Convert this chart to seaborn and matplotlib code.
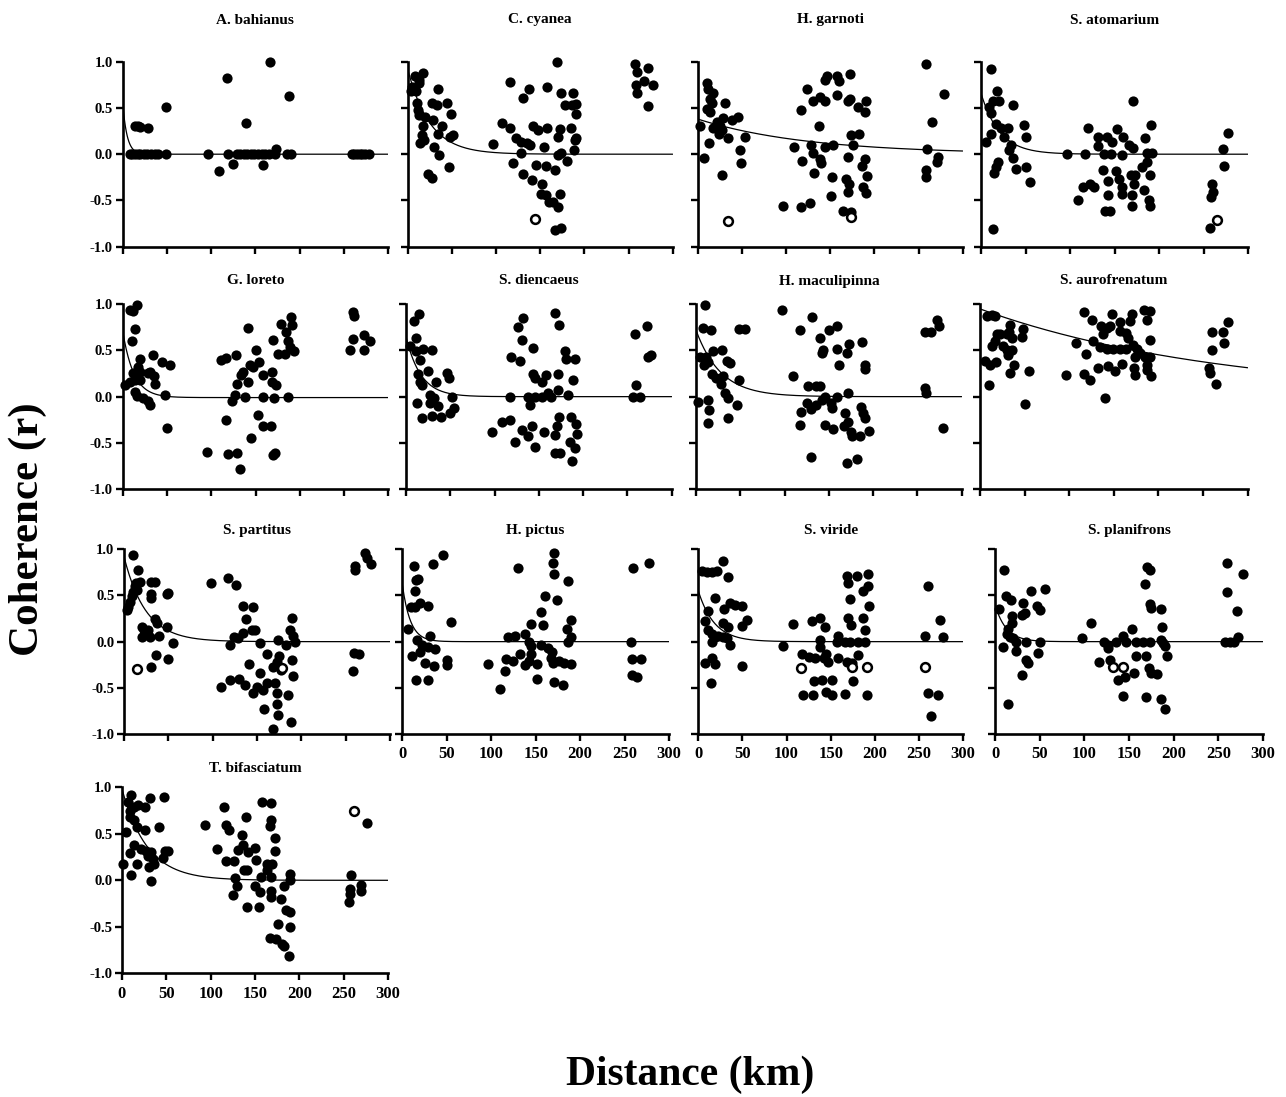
import numpy as np
import pandas as pd
import matplotlib
matplotlib.use("Agg")
import matplotlib.pyplot as plt
import seaborn as sns

# ---------------- data: (distance km, coherence r) per species ----------------
species = ["A. bahianus", "C. cyanea", "H. garnoti", "S. atomarium",
           "G. loreto", "S. diencaeus", "H. maculipinna", "S. aurofrenatum",
           "S. partitus", "H. pictus", "S. viride", "S. planifrons",
           "T. bifasciatum"]

bahianus_pts = [(8, 0.0), (11, 0.0), (14, 0.0), (17, 0.0), (20, 0.0), (24, 0.0), (28, 0.0),
                (32, 0.0), (36, 0.0), (40, 0.0), (49, 0.0), (97, 0.0), (119, 0.0), (129, 0.0),
                (133, 0.0), (137, 0.0), (141, 0.0), (145, 0.0), (149, 0.0), (153, 0.0),
                (157, 0.0), (161, 0.0), (165, 0.0), (172, 0.0), (186, 0.0), (190, 0.0),
                (259, 0.0), (262, 0.0), (265, 0.0), (268, 0.0), (271, 0.0), (274, 0.0),
                (278, 0.0), (14, 0.31), (17, 0.30), (20, 0.29), (29, 0.28), (49, 0.51),
                (118, 0.82), (167, 1.0), (188, 0.63), (139, 0.34), (173, 0.06),
                (109, -0.18), (125, -0.11), (159, -0.12)]
bahianus_open = []

cyanea_pts = [(3.8, 0.68), (8.3, 0.84), (12.8, 0.80), (17.7, 0.88), (13.2, 0.77), (4.5, 0.73),
              (9, 0.68), (10.2, 0.55), (11.3, 0.48), (12.8, 0.42), (19.6, 0.40), (29, 0.37),
              (38.5, 0.31), (27, 0.55), (32.8, 0.53), (34, 0.71), (44, 0.55), (49, 0.43),
              (17.7, 0.30), (15.8, 0.21), (13.9, 0.12), (18.9, 0.15), (34.7, 0.22), (30, 0.08),
              (35.8, -0.01), (51.7, 0.21), (48, 0.19), (23.4, -0.21), (27, -0.26), (47, -0.14),
              (96, 0.11), (107, 0.34), (116, 0.28), (123, 0.17), (128, 0.13), (135, 0.12),
              (138, 0.10), (128, 0.01), (119, -0.09), (130, -0.21), (141, -0.28), (145, -0.12),
              (152, -0.32), (151, -0.43), (157, -0.44), (160, -0.52), (165, -0.52),
              (170, -0.57), (172, -0.43), (167, -0.17), (156, -0.13), (170, -0.01),
              (174, 0.01), (167, -0.82), (174, -0.80), (169, 1.0), (116, 0.78), (137, 0.71),
              (158, 0.73), (131, 0.61), (142, 0.31), (147, 0.26), (158, 0.28), (172, 0.27),
              (170, 0.19), (154, 0.08), (174, 0.66), (187, 0.66), (178, 0.53), (186, 0.53),
              (191, 0.54), (190, 0.43), (185, 0.28), (191, 0.17), (189, 0.15), (188, 0.05),
              (180, -0.07), (257, 0.97), (260, 0.89), (272, 0.93), (267, 0.79), (258, 0.75),
              (260, 0.66), (278, 0.75), (272, 0.52)]
cyanea_open = [(144, -0.70)]

garnoti_pts = [(10, 0.77), (11.3, 0.71), (17.7, 0.66), (14, 0.60), (15.8, 0.55), (10, 0.49),
               (14, 0.46), (2.6, 0.30), (17.7, 0.28), (24, 0.22), (21.5, 0.35), (29, 0.39),
               (31, 0.55), (38.5, 0.37), (46, 0.40), (34.7, 0.17), (53.6, 0.19), (13, 0.12),
               (48, 0.04), (49, -0.10), (7, -0.04), (28, -0.23), (27, 0.26), (25, 0.31),
               (96, -0.56), (117, -0.57), (127, -0.53), (151, -0.45), (152, -0.25),
               (132, -0.20), (118, -0.07), (130, 0.01), (139, -0.05), (140, -0.09),
               (109, 0.08), (128, 0.10), (144, 0.08), (153, 0.10), (137, 0.31), (117, 0.48),
               (124, 0.71), (130, 0.57), (138, 0.62), (144, 0.80), (146, 0.85), (144, 0.57),
               (158, 0.85), (160, 0.79), (172, 0.87), (158, 0.64), (170, 0.57), (172, 0.60),
               (181, 0.51), (189, 0.46), (191, 0.57), (174, 0.21), (183, 0.22), (176, 0.10),
               (170, -0.03), (189, -0.05), (186, -0.13), (192, -0.24), (168, -0.27),
               (171, -0.32), (170, -0.41), (187, -0.35), (190, -0.42), (165, -0.61),
               (174, -0.62), (258, 0.97), (279, 0.65), (265, 0.35), (260, 0.06),
               (272, -0.03), (271, -0.08), (259, -0.17), (259, -0.25)]
garnoti_open = [(34.7, -0.72), (173, -0.68)]

atomarium_pts = [(11, 0.92), (18, 0.68), (20.5, 0.58), (14, 0.57), (35.4, 0.53), (9.3, 0.51),
                 (11, 0.44), (17, 0.33), (22, 0.28), (30, 0.28), (48, 0.32), (50, 0.19),
                 (11, 0.22), (5.6, 0.13), (26, 0.19), (33.5, 0.10), (32, 0.04), (35.4, -0.04),
                 (18.6, -0.08), (16.8, -0.14), (15, -0.20), (39, -0.16), (50, -0.14),
                 (55, -0.30), (14, -0.81), (97, 0.0), (117, 0.0), (138, 0.0), (146, 0.0),
                 (158, -0.01), (120, 0.28), (132, 0.19), (131, 0.09), (142, 0.19), (147, 0.13),
                 (153, 0.27), (160, 0.19), (166, 0.10), (171, 0.07), (171, 0.58), (191, 0.32),
                 (184, 0.17), (186, 0.01), (192, 0.01), (186, -0.08), (181, -0.14),
                 (137, -0.17), (152, -0.18), (115, -0.35), (123, -0.32), (127, -0.36),
                 (143, -0.29), (155, -0.27), (158, -0.35), (158, -0.43), (168, -0.23),
                 (173, -0.23), (172, -0.32), (183, -0.39), (170, -0.44), (190, -0.23),
                 (189, -0.49), (190, -0.56), (170, -0.56), (143, -0.44), (109, -0.50),
                 (139, -0.61), (145, -0.61), (278, 0.23), (272, 0.06), (273, -0.13),
                 (260, -0.32), (261, -0.41), (258, -0.46), (257, -0.80)]
atomarium_open = [(265, -0.71)]

loreto_pts = [(8.3, 0.94), (16.6, 0.99), (12, 0.93), (14, 0.73), (11, 0.60), (19, 0.41),
              (17.7, 0.32), (12, 0.26), (19, 0.27), (2.6, 0.13), (8.3, 0.16), (14, 0.18),
              (19, 0.18), (14, 0.05), (15.8, 0.01), (22.6, -0.01), (29, -0.05), (31, -0.09),
              (34, 0.45), (29, 0.26), (35, 0.22), (31, 0.27), (44, 0.38), (53.4, 0.34),
              (48, 0.02), (49.7, -0.34), (36.5, 0.14), (95.6, -0.60), (118.6, -0.62),
              (128.7, -0.61), (132, -0.78), (144.5, -0.45), (116.6, -0.25), (124, -0.05),
              (127, 0.02), (138, 0.0), (153, -0.20), (158, -0.32), (168, -0.32),
              (172, -0.61), (170, -0.63), (110.7, 0.40), (117, 0.42), (128, 0.45),
              (129, 0.14), (134, 0.23), (136, 0.27), (141, 0.16), (142, 0.74), (144, 0.34),
              (147, 0.32), (151, 0.51), (154, 0.37), (158, 0.23), (159, 0.0), (169, 0.27),
              (169, 0.16), (173, 0.13), (171, -0.02), (187, 0.0), (170, 0.61), (175, 0.46),
              (179, 0.79), (185, 0.70), (190, 0.86), (191, 0.78), (187, 0.60), (189, 0.54),
              (193, 0.49), (183, 0.46), (260, 0.92), (261, 0.87), (260, 0.62), (272, 0.67),
              (279, 0.60), (257, 0.51), (272, 0.51)]
loreto_open = []

diencaeus_pts = [(9.4, 0.82), (14.7, 0.89), (10.9, 0.63), (4.5, 0.55), (10.9, 0.49),
                 (19.6, 0.52), (29.7, 0.51), (15.8, 0.40), (13.2, 0.25), (25.2, 0.28),
                 (15.8, 0.16), (18.4, 0.13), (33.5, 0.16), (46, 0.26), (48, 0.20), (27, 0.02),
                 (32, -0.02), (27, -0.07), (36.5, -0.10), (12, -0.07), (18.4, -0.23),
                 (29.7, -0.21), (39.5, -0.22), (49.7, -0.18), (54.6, -0.12), (51.6, 0.0),
                 (97.5, -0.38), (108, -0.27), (117, -0.25), (123, -0.49), (131, -0.36),
                 (138, -0.43), (142, -0.32), (146, -0.55), (156, -0.38), (168, -0.61),
                 (174, -0.61), (187, -0.70), (191, -0.56), (193, -0.40), (192, -0.30),
                 (185, -0.49), (168, -0.42), (170, -0.32), (173, -0.22), (186, -0.22),
                 (117, 0.0), (138, 0.0), (140, -0.09), (146, 0.0), (153, 0.0), (160, 0.04),
                 (164, 0.0), (172, 0.07), (183, 0.02), (119, 0.43), (129, 0.39), (143, 0.24),
                 (146, 0.20), (153, 0.16), (158, 0.23), (172, 0.24), (188, 0.18), (132, 0.85),
                 (126, 0.75), (131, 0.61), (143, 0.53), (168, 0.91), (173, 0.78), (180, 0.49),
                 (181, 0.41), (191, 0.41), (259, 0.68), (272, 0.76), (277, 0.45), (273, 0.43),
                 (260, 0.13), (256, 0.0), (264, 0.0)]
diencaeus_open = []

maculipinna_pts = [(10, 0.99), (8.3, 0.74), (17, 0.72), (4.5, 0.43), (10.9, 0.43), (13.9, 0.38),
                   (9.4, 0.34), (19.6, 0.49), (29, 0.51), (34.7, 0.39), (38.5, 0.36),
                   (17.7, 0.24), (23, 0.20), (28, 0.14), (31, 0.22), (48, 0.18), (32.8, 0.04),
                   (35.8, -0.02), (2.6, -0.06), (13.9, -0.04), (14.7, -0.14), (13.9, -0.29),
                   (35.8, -0.23), (46, -0.09), (48.5, 0.73), (55, 0.73), (97.5, 0.94),
                   (130.6, 0.86), (117.4, 0.72), (140, 0.63), (143, 0.51), (142, 0.47),
                   (150, 0.72), (159, 0.76), (159, 0.52), (162, 0.34), (173, 0.57), (170, 0.47),
                   (187, 0.59), (191, 0.34), (191, 0.30), (110, 0.22), (127, 0.12), (136, 0.12),
                   (140, 0.11), (146, 0.0), (159, 0.0), (172, 0.04), (119, -0.17), (125, -0.07),
                   (130, -0.13), (135, -0.09), (142, -0.04), (152, -0.07), (153, -0.12),
                   (117, -0.31), (146, -0.31), (155, -0.35), (168, -0.18), (172, -0.27),
                   (167, -0.32), (175, -0.38), (176, -0.43), (185, -0.43), (186, -0.11),
                   (189, -0.18), (191, -0.23), (195, -0.37), (130, -0.65), (170, -0.72),
                   (182, -0.68), (259, 0.70), (265, 0.70), (272, 0.83), (274, 0.77),
                   (259, 0.09), (260, 0.04), (279, -0.34)]
maculipinna_open = []

aurofrenatum_pts = [(7.5, 0.87), (13, 0.88), (17, 0.87), (34, 0.78), (32, 0.70), (19, 0.68),
                    (22, 0.68), (30, 0.68), (48, 0.73), (47, 0.65), (35.5, 0.64), (17, 0.60),
                    (13, 0.55), (26, 0.55), (30, 0.51), (35.5, 0.51), (31, 0.45), (5.6, 0.39),
                    (11, 0.34), (18, 0.37), (38.5, 0.34), (34, 0.26), (55, 0.28), (10.5, 0.13),
                    (50, -0.08), (117, 0.92), (126, 0.83), (148, 0.90), (157, 0.81), (170, 0.90),
                    (168, 0.82), (184, 0.94), (190, 0.93), (187, 0.83), (136, 0.76), (142, 0.74),
                    (146, 0.76), (138, 0.68), (157, 0.71), (164, 0.69), (166, 0.63), (108, 0.58),
                    (127, 0.60), (134, 0.54), (142, 0.52), (149, 0.52), (157, 0.52), (164, 0.52),
                    (172, 0.56), (176, 0.52), (190, 0.61), (119, 0.46), (174, 0.43), (179, 0.47),
                    (185, 0.43), (190, 0.43), (187, 0.34), (132, 0.31), (143, 0.33), (151, 0.28),
                    (159, 0.35), (173, 0.31), (174, 0.23), (187, 0.29), (192, 0.22), (96, 0.23),
                    (117, 0.25), (123, 0.18), (140, -0.01), (260, 0.70), (272, 0.70),
                    (278, 0.81), (273, 0.58), (260, 0.50), (257, 0.31), (258, 0.26), (265, 0.14)]
aurofrenatum_open = []

partitus_pts = [(9.8, 0.94), (16, 0.78), (3, 0.34), (4.9, 0.38), (6.8, 0.43), (8.6, 0.49),
                (10.5, 0.54), (12.4, 0.60), (14, 0.63), (18, 0.65), (15, 0.56), (30, 0.65),
                (35, 0.65), (30, 0.52), (30, 0.47), (49, 0.52), (50, 0.53), (20, 0.16),
                (22, 0.13), (27.5, 0.13), (20, 0.05), (29, 0.05), (35, 0.24), (37, 0.20),
                (39, 0.06), (49, 0.16), (55, -0.02), (36, -0.14), (50, -0.19), (31, -0.27),
                (98, 0.63), (117, 0.69), (126, 0.61), (134, 0.39), (146, 0.37), (138, 0.24),
                (144, 0.13), (148, 0.13), (124, 0.05), (129, 0.04), (134, 0.09), (120, -0.04),
                (153, -0.01), (174, 0.02), (183, -0.04), (187, 0.13), (189, 0.26), (191, 0.06),
                (193, 0.0), (161, -0.13), (175, -0.16), (172, -0.22), (168, -0.27),
                (177, -0.31), (190, -0.20), (191, -0.37), (141, -0.24), (153, -0.34),
                (130, -0.40), (119, -0.41), (109, -0.49), (136, -0.47), (146, -0.56),
                (150, -0.49), (157, -0.52), (161, -0.45), (170, -0.45), (172, -0.56),
                (185, -0.58), (158, -0.73), (172, -0.68), (174, -0.79), (188, -0.87),
                (168, -0.95), (272, 0.96), (274, 0.91), (279, 0.84), (261, 0.82), (261, 0.78),
                (259, -0.12), (265, -0.13), (258, -0.32)]
partitus_open = [(15, -0.30), (178, -0.28)]

pictus_pts = [(13.5, 0.82), (18, 0.68), (15, 0.67), (14, 0.55), (9.7, 0.38), (14, 0.37),
              (20, 0.42), (29, 0.39), (6, 0.14), (35, 0.84), (46, 0.94), (55, 0.21), (16, 0.02),
              (22, -0.04), (31, 0.06), (29, -0.06), (37, -0.08), (20, -0.11), (10.5, -0.16),
              (25, -0.23), (36, -0.26), (50, -0.20), (50, -0.25), (15, -0.41), (29, -0.42),
              (130, 0.80), (171, 0.96), (169, 0.85), (171, 0.73), (186, 0.66), (160, 0.49),
              (174, 0.45), (156, 0.32), (158, 0.18), (145, 0.19), (190, 0.23), (185, 0.14),
              (190, 0.05), (186, 0.0), (119, 0.05), (127, 0.06), (138, 0.08), (143, 0.0),
              (145, -0.05), (145, -0.13), (156, -0.04), (164, -0.07), (168, -0.11),
              (117, -0.19), (124, -0.21), (132, -0.13), (138, -0.25), (142, -0.21),
              (152, -0.24), (167, -0.18), (170, -0.23), (176, -0.21), (182, -0.23),
              (190, -0.24), (96, -0.24), (115, -0.32), (152, -0.40), (171, -0.44),
              (181, -0.47), (110, -0.51), (259, 0.80), (278, 0.85), (257, 0.0), (258, -0.19),
              (268, -0.19), (258, -0.36), (264, -0.38)]
pictus_open = []

viride_pts = [(3.8, 0.77), (9.4, 0.75), (15, 0.75), (20.8, 0.76), (28, 0.87), (34, 0.70),
              (19, 0.47), (11, 0.33), (7.5, 0.22), (11, 0.13), (16, 0.08), (19, 0.05),
              (22.6, 0.06), (28, 0.05), (32, 0.04), (15, 0.0), (36, -0.04), (27.5, 0.20),
              (34, 0.16), (29.4, 0.35), (36, 0.42), (41.5, 0.40), (49, 0.39), (55, 0.23),
              (49, 0.17), (7.5, -0.23), (15, -0.18), (19, -0.24), (14, -0.45), (49, -0.26),
              (107.5, 0.19), (96, -0.05), (129, 0.22), (138, 0.26), (144, 0.16), (138, 0.02),
              (138, -0.06), (158, 0.06), (157, 0.0), (166, 0.0), (172, 0.0), (181, 0.0),
              (189, 0.0), (117, -0.13), (126, -0.17), (132, -0.18), (145, -0.13),
              (147, -0.22), (143, -0.18), (158, -0.18), (181, -0.14), (169, -0.22),
              (174, -0.23), (131, -0.43), (140, -0.42), (151, -0.41), (175, -0.43),
              (119, -0.58), (130, -0.58), (145, -0.55), (151, -0.58), (166, -0.57),
              (191, -0.58), (169, 0.71), (180, 0.71), (192, 0.73), (170, 0.64), (192, 0.60),
              (187, 0.55), (172, 0.46), (193, 0.39), (170, 0.26), (173, 0.18), (187, 0.26),
              (189, 0.13), (260, 0.60), (257, 0.06), (277, 0.05), (274, 0.23), (260, -0.56),
              (272, -0.58), (264, -0.80)]
viride_open = [(116, -0.28), (174, -0.27), (191, -0.27), (257, -0.27)]

planifrons_pts = [(10, 0.78), (12, 0.49), (17.5, 0.45), (5, 0.35), (18.6, 0.28), (30, 0.29),
                  (33.5, 0.31), (31, 0.42), (40, 0.55), (56, 0.57), (46.6, 0.39), (50, 0.34),
                  (18.6, 0.20), (15, 0.14), (13, 0.08), (17, 0.05), (20.5, 0.04), (24, 0.0),
                  (35, 0.0), (50, 0.0), (8.6, -0.06), (24, -0.10), (48.5, -0.12), (35, -0.20),
                  (37.3, -0.23), (30, -0.36), (15, -0.67), (97, 0.04), (108, 0.20), (122, 0.0),
                  (126, -0.04), (127, -0.07), (116, -0.22), (128.6, -0.20), (138, -0.41),
                  (145, -0.38), (143, -0.59), (156, -0.34), (153, 0.14), (143, 0.06),
                  (136, 0.0), (147, 0.0), (158, 0.0), (166, 0.0), (173, 0.0), (186, 0.02),
                  (188, -0.02), (190, -0.05), (158, -0.16), (169, -0.16), (192, -0.16),
                  (172, -0.29), (175, -0.34), (181, -0.35), (186, 0.35), (187, 0.16),
                  (168, 0.62), (170, 0.81), (173, 0.78), (173, 0.41), (175, 0.36),
                  (169, -0.60), (186, -0.62), (190, -0.73), (260, 0.85), (260, 0.54),
                  (278, 0.73), (271, 0.33), (272, 0.05), (257, 0.0), (263, 0.0), (267, 0.0)]
planifrons_open = [(132, -0.27), (143, -0.27)]

bifasciatum_pts = [(10.5, 0.92), (6.8, 0.84), (8.6, 0.75), (14, 0.79), (18, 0.81), (25.6, 0.79),
                   (32, 0.88), (47, 0.90), (8.6, 0.68), (13, 0.65), (16.5, 0.57), (4.9, 0.52),
                   (25.6, 0.54), (42, 0.57), (14, 0.38), (21, 0.34), (27, 0.32), (33, 0.30),
                   (8.6, 0.29), (1, 0.18), (10.5, 0.06), (16.5, 0.18), (31, 0.14), (35, 0.23),
                   (33, -0.01), (46, 0.24), (48, 0.32), (52, 0.32), (29, 0.26), (36, 0.18),
                   (94, 0.60), (107, 0.34), (115, 0.79), (117, 0.60), (121, 0.54), (117, 0.21),
                   (126, 0.21), (135, 0.49), (131, 0.33), (136, 0.38), (140, 0.68), (142, 0.30),
                   (150, 0.35), (138, 0.11), (141, 0.11), (151, 0.22), (128, 0.02),
                   (130, -0.06), (125, -0.16), (141, -0.29), (155, -0.29), (150, -0.06),
                   (156, -0.13), (157, 0.04), (164, 0.18), (163, 0.11), (158, 0.84), (168, 0.83),
                   (168, 0.65), (167, 0.58), (172, 0.45), (172, 0.32), (169, 0.18), (168, 0.04),
                   (168, -0.11), (168, -0.18), (183, -0.06), (189, 0.07), (189, 0.0),
                   (179, -0.20), (185, -0.32), (190, -0.34), (189, -0.50), (176, -0.47),
                   (167, -0.62), (174, -0.63), (181, -0.68), (183, -0.71), (188, -0.81),
                   (276, 0.62), (258, 0.06), (257, -0.09), (257, -0.15), (256, -0.23),
                   (269, -0.05), (269, -0.11)]
bifasciatum_open = [(262, 0.75)]

# exponential decay fit per species: r = a * exp(-b * d) + c
fit_a = [0.55, 0.92, 0.38, 0.66, 0.72, 0.65, 0.72, 0.95, 0.92, 0.62, 0.55, 0.40, 0.98]
fit_b = [0.20, 0.040, 0.008, 0.048, 0.08, 0.06, 0.036, 0.0037, 0.041, 0.11, 0.055, 0.08, 0.035]
fit_c = [0.0, 0.0, 0.0, 0.0, -0.01, 0.0, 0.0, 0.0, 0.0, 0.0, 0.0, 0.0, 0.0]

x_ticks = [0, 50, 100, 150, 200, 250, 300]
y_ticks = [-1.0, -0.5, 0.0, 0.5, 1.0]
y_ticklabels = ["-1.0", "-0.5", "0.0", "0.5", "1.0"]

filled_sets = [bahianus_pts, cyanea_pts, garnoti_pts, atomarium_pts, loreto_pts,
               diencaeus_pts, maculipinna_pts, aurofrenatum_pts, partitus_pts,
               pictus_pts, viride_pts, planifrons_pts, bifasciatum_pts]
open_sets = [bahianus_open, cyanea_open, garnoti_open, atomarium_open, loreto_open,
             diencaeus_open, maculipinna_open, aurofrenatum_open, partitus_open,
             pictus_open, viride_open, planifrons_open, bifasciatum_open]

rows = []
for name, pts, opn in zip(species, filled_sets, open_sets):
    rows += [{"species": name, "km": d, "r": r, "open": False} for d, r in pts]
    rows += [{"species": name, "km": d, "r": r, "open": True} for d, r in opn]
df = pd.DataFrame(rows)

# ---------------- layout (pixel boxes: left, right, top(=1.0), bottom(=-1.0)) ----------------
W, H = 1286, 1097
boxes = [
    (122.7, 388.0, 61.7, 246.7), (407.7, 672.7, 61.7, 246.7),
    (697.7, 962.7, 61.7, 246.7), (981.0, 1248.0, 61.7, 246.7),
    (122.7, 388.3, 304.3, 489.0), (406.0, 671.7, 304.3, 489.0),
    (696.0, 961.7, 304.3, 489.0), (980.0, 1247.7, 304.3, 489.0),
    (124.0, 390.0, 549.3, 734.0), (402.3, 669.0, 549.3, 734.0),
    (698.3, 963.0, 549.3, 734.0), (995.0, 1263.0, 549.3, 734.0),
    (122.0, 388.0, 787.3, 973.3),
]
title_y = [20, 20, 20, 20, 281, 281, 281, 281, 530, 530, 530, 530, 768]
show_xlabels = [False] * 8 + [False, True, True, True, True]
show_ylabels = [True, False, False, False, True, False, False, False,
                True, False, False, False, True]

sns.set_style("ticks")
plt.rcParams["font.family"] = ["Liberation Serif", "DejaVu Serif"]
plt.rcParams["font.weight"] = "bold"
for key in ("text.color", "axes.labelcolor", "xtick.color", "ytick.color", "axes.edgecolor"):
    plt.rcParams[key] = "black"

fig = plt.figure(figsize=(W / 100, H / 100), dpi=100)
fig.patch.set_facecolor("white")

curve_d = np.linspace(0, 300, 301)

for i, name in enumerate(species):
    L, R, T, B = boxes[i]
    ax = fig.add_axes([L / W, 1 - B / H, (R - L) / W, (B - T) / H])
    ax.set_facecolor("white")
    sub = df[df["species"] == name]

    fit = pd.DataFrame({"km": curve_d,
                        "r": fit_a[i] * np.exp(-fit_b[i] * curve_d) + fit_c[i]})
    sns.lineplot(data=fit, x="km", y="r", color="black", linewidth=0.9, ax=ax,
                 legend=False, zorder=2)

    sns.scatterplot(data=sub[~sub["open"]], x="km", y="r", color="black", s=54,
                    edgecolor="black", linewidth=0, ax=ax, legend=False,
                    clip_on=False, zorder=3)
    if sub["open"].any():
        sns.scatterplot(data=sub[sub["open"]], x="km", y="r", s=40, color="white",
                        edgecolor="black", linewidth=1.8, ax=ax, legend=False,
                        clip_on=False, zorder=4)

    ax.set_xlim(0, 300)
    ax.set_ylim(-1, 1)
    ax.set_xticks(x_ticks)
    ax.set_yticks(y_ticks)
    ax.set_yticklabels(y_ticklabels)
    for side in ("top", "right"):
        ax.spines[side].set_visible(False)
    for side in ("left", "bottom"):
        ax.spines[side].set_linewidth(1.9)
        ax.spines[side].set_color("black")
    ax.tick_params(direction="out", length=5, width=1.7, colors="black", pad=2)
    ax.tick_params(axis="x", labelsize=12, labelbottom=show_xlabels[i], pad=4)
    ax.tick_params(axis="y", labelsize=10.5, labelleft=show_ylabels[i])
    for lab in ax.get_xticklabels() + ax.get_yticklabels():
        lab.set_fontweight("bold")
    ax.set_xlabel("")
    ax.set_ylabel("")

    fig.text((L + R) / 2 / W, 1 - title_y[i] / H, name, ha="center", va="center",
             fontsize=11, fontweight="bold", color="black")

fig.text(28 / W, 1 - 529 / H, "Coherence (r)", rotation=90, ha="center", va="center",
         fontsize=31, fontweight="bold", color="black")
fig.text(690 / W, 1 - 1075 / H, "Distance (km)", ha="center", va="center",
         fontsize=30, fontweight="bold", color="black")

fig.savefig("out.png", dpi=100, facecolor="white")
